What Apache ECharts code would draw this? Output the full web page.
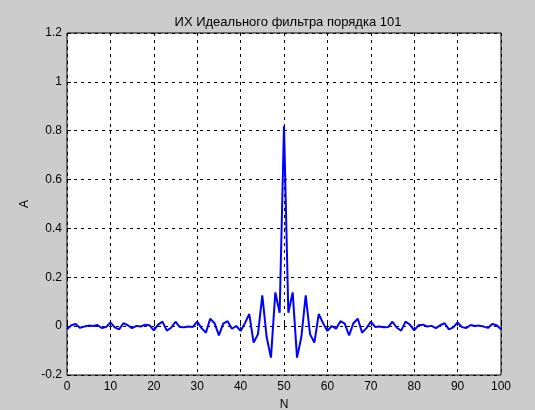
<!DOCTYPE html>
<html>
<head>
<meta charset="utf-8">
<script src="https://cdn.jsdelivr.net/npm/echarts@6/dist/echarts.min.js"></script>
<style>
html,body{margin:0;padding:0;background:#cccccc;}
#chart{width:535px;height:410px;}
</style>
</head>
<body>
<div id="chart"></div>
<script>
// Sample indices N = 0..100
const nValues = [0,1,2,3,4,5,6,7,8,9,10,11,12,13,14,15,16,17,18,19,20,21,22,23,24,25,26,27,28,29,30,31,32,33,34,35,36,37,38,39,40,41,42,43,44,45,46,47,48,49,50,51,52,53,54,55,56,57,58,59,60,61,62,63,64,65,66,67,68,69,70,71,72,73,74,75,76,77,78,79,80,81,82,83,84,85,86,87,88,89,90,91,92,93,94,95,96,97,98,99,100];
// Impulse response amplitude A(N)
const aValues = [
 -0.0127, 0.0039, 0.0091, -0.0072, -0.0018, 0.0022, 0.0006, 0.0048, -0.0078, -0.0040,
  0.0151, -0.0050, -0.0131, 0.0120, 0.0037, -0.0083, 0.0011, -0.0015, 0.0059, 0.0039,
 -0.0172, 0.0064, 0.0184, -0.0186, -0.0066, 0.0180, -0.0039, -0.0049, -0.0015, -0.0032,
  0.0187, -0.0082, -0.0266, 0.0302, 0.0121, -0.0378, 0.0102, 0.0202, -0.0107, 0.0006,
 -0.0197, 0.0123, 0.0496, -0.0675, -0.0325, 0.1258, -0.0445, -0.1288, 0.1380, 0.0549,
  0.82,
  0.0549, 0.1380, -0.1288, -0.0445, 0.1258, -0.0325, -0.0675, 0.0496, 0.0123, -0.0197,
  0.0006, -0.0107, 0.0202, 0.0102, -0.0378, 0.0121, 0.0302, -0.0266, -0.0082, 0.0187,
 -0.0032, -0.0015, -0.0049, -0.0039, 0.0180, -0.0066, -0.0186, 0.0184, 0.0064, -0.0172,
  0.0039, 0.0059, -0.0015, 0.0011, -0.0083, 0.0037, 0.0120, -0.0131, -0.0050, 0.0151,
 -0.0040, -0.0078, 0.0048, 0.0006, 0.0022, -0.0018, -0.0072, 0.0091, 0.0039, -0.0127
];
const titleText = 'ИХ Идеального фильтра порядка 101';
const xName = 'N';
const yName = 'A';
const xTicks = [0,10,20,30,40,50,60,70,80,90,100];
const yTicks = [-0.2,0,0.2,0.4,0.6,0.8,1,1.2];

const data = nValues.map((n,i)=>[n,aValues[i]]);
const chart = echarts.init(document.getElementById('chart'), null, {renderer:'canvas'});
const font = '"Liberation Sans", Arial, sans-serif';
const gridLine = {show:true, lineStyle:{color:'#000', width:1, type:[3,4]}};
chart.setOption({
  animation:false,
  backgroundColor:'#cccccc',
  title:{text:titleText, left:283, top:11, textAlign:'center',
    textStyle:{fontFamily:font, fontSize:13, fontWeight:'normal', color:'#000'}},
  grid:{left:67, right:34, top:33, bottom:35, show:true, backgroundColor:'#fff', borderColor:'#000', borderWidth:1,
    containLabel:false, outerBoundsMode:'none'},
  xAxis:{type:'value', min:xTicks[0], max:xTicks[xTicks.length-1], interval:10,
    name:xName, nameLocation:'middle', nameGap:24,
    nameTextStyle:{fontFamily:font, fontSize:12, color:'#000'},
    axisLine:{show:false}, axisTick:{show:true, inside:true, length:4, lineStyle:{color:'#000'}},
    axisLabel:{fontFamily:font, fontSize:12, color:'#000', margin:6},
    splitLine:gridLine},
  yAxis:{type:'value', min:yTicks[0], max:yTicks[yTicks.length-1], interval:0.2,
    name:yName, nameLocation:'middle', nameGap:34, nameRotate:90,
    nameTextStyle:{fontFamily:font, fontSize:12, color:'#000'},
    axisLine:{show:false}, axisTick:{show:true, inside:true, length:4, lineStyle:{color:'#000'}},
    axisLabel:{fontFamily:font, fontSize:12, color:'#000', margin:5,
      formatter:v=>String(Math.round(v*10)/10)},
    splitLine:gridLine},
  series:[{type:'line', data:data, showSymbol:false, symbol:'none',
    lineStyle:{color:'#0000ff', width:2}, itemStyle:{color:'#0000ff'}}]
});
</script>
</body>
</html>
